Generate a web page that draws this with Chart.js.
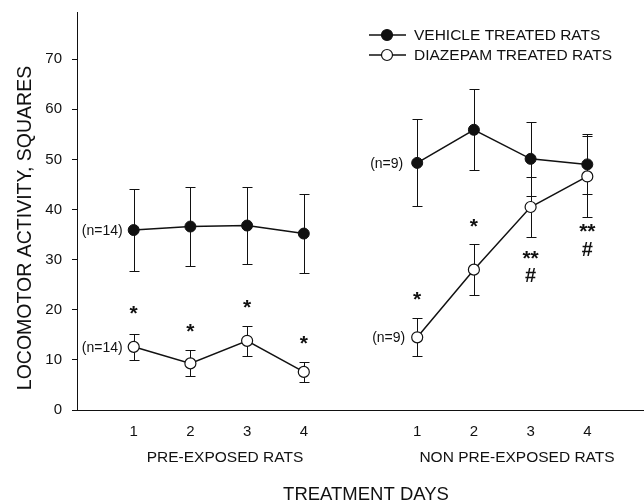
<!DOCTYPE html>
<html><head><meta charset="utf-8">
<script src="https://cdn.jsdelivr.net/npm/chart.js@4.4.0/dist/chart.umd.min.js"></script>
<style>html,body{margin:0;padding:0;background:#fff;}</style>
</head><body><canvas id="c" width="644" height="504"></canvas>
<script>
// ---- data ----
const dayLabels = ['1','2','3','4'];
const preX = [1,2,3,4];
const nonX = [6,7,8,9];
const vehiclePre = [35.9,36.6,36.8,35.2];
const vehiclePreSE = [8.2,7.8,7.6,7.9];
const vehicleNon = [49.3,55.9,50.1,49.0];
const vehicleNonSE = [8.7,8.1,7.4,6.0];
const diazepamPre = [12.6,9.3,13.8,7.6];
const diazepamPreSE = [2.6,2.6,3.0,2.0];
const diazepamNon = [14.5,28.0,40.5,46.6];
const diazepamNonSE = [3.8,5.1,5.9,8.0];
const yTicks = [0,10,20,30,40,50,60,70];
const seriesNames = ['VEHICLE TREATED RATS','DIAZEPAM TREATED RATS'];
const groupNames = ['PRE-EXPOSED RATS','NON PRE-EXPOSED RATS'];
const axisTitles = ['LOCOMOTOR ACTIVITY, SQUARES','TREATMENT DAYS'];
const nLabelsPre = ['(n=14)','(n=14)'];
const nLabelsNon = ['(n=9)','(n=9)'];
const preMarks = ['*','*','*','*'];
const preMarkY = [20.1,16.6,21.3,14.2];
const nonMarks = [['*'],['*'],['**','#'],['**','#']];
const nonMarkY = [[22.9],[37.6],[31.1,26.9],[36.5,32.1]];

const FONT = '"Liberation Sans", Arial, Helvetica, sans-serif';
const INK = '#111';

function pts(xs, ys){ return xs.map((x,i)=>({x:x, y:ys[i]})); }
const gap = [{x:5, y:null}];

const errorBars = {
  id:'errorBars',
  beforeDatasetsDraw(chart){
    const ctx = chart.ctx, xs = chart.scales.x, ys = chart.scales.y;
    ctx.save();
    ctx.strokeStyle = INK; ctx.lineWidth = 1;
    const draw = (xArr, yArr, eArr) => {
      xArr.forEach((x,i)=>{
        const px = Math.round(xs.getPixelForValue(x)) + 0.5;
        const t = Math.round(ys.getPixelForValue(yArr[i] + eArr[i])) + 0.5;
        const b = Math.round(ys.getPixelForValue(yArr[i] - eArr[i])) + 0.5;
        ctx.beginPath();
        ctx.moveTo(px, t); ctx.lineTo(px, b);
        ctx.moveTo(px-5, t); ctx.lineTo(px+5, t);
        ctx.moveTo(px-5, b); ctx.lineTo(px+5, b);
        ctx.stroke();
      });
    };
    draw(preX, vehiclePre, vehiclePreSE);
    draw(nonX, vehicleNon, vehicleNonSE);
    draw(preX, diazepamPre, diazepamPreSE);
    draw(nonX, diazepamNon, diazepamNonSE);
    ctx.restore();
  }
};

const annotations = {
  id:'annotations',
  afterDraw(chart){
    const ctx = chart.ctx, xs = chart.scales.x, ys = chart.scales.y;
    ctx.save();
    ctx.fillStyle = INK;
    // n labels
    ctx.font = '14px ' + FONT; ctx.textAlign = 'right'; ctx.textBaseline = 'middle';
    ctx.fillText(nLabelsPre[0], xs.getPixelForValue(preX[0]) - 11, ys.getPixelForValue(vehiclePre[0]) + 1);
    ctx.fillText(nLabelsPre[1], xs.getPixelForValue(preX[0]) - 11, ys.getPixelForValue(diazepamPre[0]) + 1);
    ctx.fillText(nLabelsNon[0], xs.getPixelForValue(nonX[0]) - 14, ys.getPixelForValue(vehicleNon[0]) + 1);
    ctx.fillText(nLabelsNon[1], xs.getPixelForValue(nonX[0]) - 12, ys.getPixelForValue(diazepamNon[0]) + 1);
    // significance marks
    ctx.textAlign = 'center'; ctx.textBaseline = 'alphabetic';
    const mark = (txt, x, yv) => {
      const px = xs.getPixelForValue(x), py = ys.getPixelForValue(yv);
      if (txt === '#') { ctx.font = 'bold 20px ' + FONT; ctx.fillText(txt, px, py + 7); }
      else { ctx.font = 'bold 21px ' + FONT; ctx.fillText(txt, px, py + 11); }
    };
    preMarks.forEach((m,i)=> mark(m, preX[i], preMarkY[i]));
    nonMarks.forEach((arr,i)=> arr.forEach((m,j)=> mark(m, nonX[i], nonMarkY[i][j])));
    // group labels
    ctx.font = '15.5px ' + FONT; ctx.textBaseline = 'middle';
    ctx.fillText(groupNames[0], xs.getPixelForValue(2.61), 458);
    ctx.fillText(groupNames[1], xs.getPixelForValue(7.76), 458);
    // x title
    ctx.font = '18.5px ' + FONT;
    ctx.fillText(axisTitles[1], 366, 495);
    // y title
    ctx.save();
    ctx.translate(26, 228); ctx.rotate(-Math.PI/2);
    ctx.font = '19.5px ' + FONT;
    ctx.fillText(axisTitles[0], 0, 0);
    ctx.restore();
    // legend
    const items = [{fill:INK, y:35},{fill:'#fff', y:55}];
    items.forEach((it,i)=>{
      ctx.strokeStyle = INK; ctx.lineWidth = 1.5;
      ctx.beginPath(); ctx.moveTo(369, it.y); ctx.lineTo(406, it.y); ctx.stroke();
      ctx.beginPath(); ctx.arc(387, it.y, 5.5, 0, Math.PI*2);
      ctx.fillStyle = it.fill; ctx.fill(); ctx.lineWidth = 1.2; ctx.stroke();
      ctx.fillStyle = INK; ctx.font = '15.5px ' + FONT; ctx.textAlign = 'left'; ctx.textBaseline = 'middle';
      ctx.fillText(seriesNames[i], 414, it.y + 1);
    });
    ctx.restore();
  }
};

new Chart(document.getElementById('c'), {
  type: 'line',
  data: {
    datasets: [
      { label: seriesNames[0], data: pts(preX, vehiclePre).concat(gap, pts(nonX, vehicleNon)),
        borderColor: INK, borderWidth: 1.5, backgroundColor: INK,
        pointRadius: 5.5, pointBorderWidth: 1, pointBackgroundColor: INK, pointBorderColor: INK, spanGaps: false },
      { label: seriesNames[1], data: pts(preX, diazepamPre).concat(gap, pts(nonX, diazepamNon)),
        borderColor: INK, borderWidth: 1.5, backgroundColor: '#fff',
        pointRadius: 5.5, pointBorderWidth: 1.2, pointBackgroundColor: '#fff', pointBorderColor: INK, spanGaps: false }
    ]
  },
  options: {
    responsive: false, animation: false, devicePixelRatio: 1,
    layout: { autoPadding: false, padding: { top: 12, right: 0, left: 0, bottom: 0 } },
    plugins: { legend: { display: false }, tooltip: { enabled: false } },
    scales: {
      x: {
        type: 'linear', min: 0, max: 10,
        afterFit(s){ s.height = 94; s.paddingLeft = 0; s.paddingRight = 0; },
        afterBuildTicks(s){ s.ticks = preX.concat(nonX).map(v=>({value:v})); },
        grid: { display: false, drawTicks: false },
        border: { display: true, color: INK, width: 1 },
        ticks: { color: INK, font: { family: FONT, size: 15 }, padding: 13, maxRotation: 0, autoSkip: false,
          callback(v){ const i = preX.indexOf(v); if (i >= 0) return dayLabels[i]; const j = nonX.indexOf(v); return j >= 0 ? dayLabels[j] : ''; } }
      },
      y: {
        type: 'linear', min: 0, max: 79.4,
        afterFit(s){ s.width = 77; s.paddingTop = 0; s.paddingBottom = 0; },
        afterBuildTicks(s){ s.ticks = yTicks.map(v=>({value:v})); },
        grid: { display: true, drawOnChartArea: false, drawTicks: true, tickLength: 5, color: INK },
        border: { display: true, color: INK, width: 1 },
        ticks: { color: INK, font: { family: FONT, size: 15 }, padding: 10 }
      }
    }
  },
  plugins: [errorBars, annotations]
});
</script>
</body></html>
